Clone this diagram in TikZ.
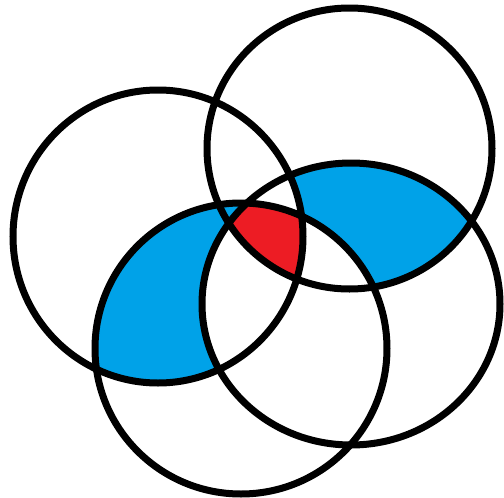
\documentclass[tikz,border=0pt]{standalone}
\definecolor{paintblue}{RGB}{0,162,232}
\definecolor{paintred}{RGB}{237,28,36}
\tikzset{ring/.style={draw=black,line width=7pt}}
\def\cA{(158,236.5) ellipse [x radius=145, y radius=146.5]}
\def\cB{(349.5,148.5) ellipse [x radius=142.5, y radius=140.5]}
\def\cC{(241,348.5) ellipse [x radius=146, y radius=145.5]}
\def\cD{(351,304) ellipse [x radius=149, y radius=141]}
\begin{document}
\begin{tikzpicture}[x=1pt,y=-1pt]
\useasboundingbox (0,0) rectangle (504,498);
\fill[white] (0,0) rectangle (504,498);
% left blue: A and C without D
\begin{scope}
  \clip \cA;
  \clip \cC;
  \fill[paintblue] (0,0) rectangle (504,498);
  \fill[white] \cD;
\end{scope}
% right blue: B and D without A and C
\begin{scope}
  \clip \cB;
  \clip \cD;
  \fill[paintblue] (0,0) rectangle (504,498);
  \fill[white] \cA;
  \fill[white] \cC;
\end{scope}
% red: all four
\begin{scope}
  \clip \cA;
  \clip \cB;
  \clip \cC;
  \clip \cD;
  \fill[paintred] (0,0) rectangle (504,498);
\end{scope}
\draw[ring] \cA;
\draw[ring] \cB;
\draw[ring] \cC;
\draw[ring] \cD;
\end{tikzpicture}
\end{document}
